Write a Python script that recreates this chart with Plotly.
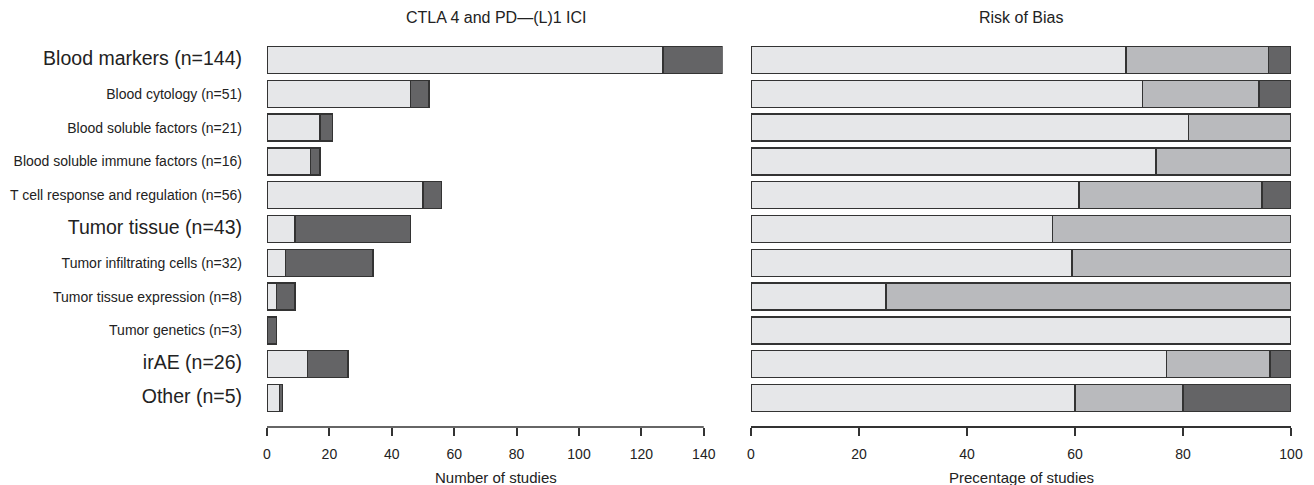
import plotly.graph_objects as go

categories = [
    "Blood markers (n=144)",
    "Blood cytology (n=51)",
    "Blood soluble factors (n=21)",
    "Blood soluble immune factors (n=16)",
    "T cell response and regulation (n=56)",
    "Tumor tissue (n=43)",
    "Tumor infiltrating cells (n=32)",
    "Tumor tissue expression (n=8)",
    "Tumor genetics (n=3)",
    "irAE (n=26)",
    "Other (n=5)",
]
is_main = [True, False, False, False, False, True, False, False, False, True, True]

ici_light = [127, 46, 17, 14, 50, 9, 6, 3, 0, 13, 4]
ici_dark = [19, 6, 4, 3, 6, 37, 28, 6, 3, 13, 1]

rob_low = [69.4, 72.5, 81.0, 75.0, 60.7, 55.8, 59.4, 25.0, 100.0, 76.9, 60.0]
rob_some = [26.4, 21.6, 19.0, 25.0, 33.9, 44.2, 40.6, 75.0, 0.0, 19.2, 20.0]
rob_high = [4.2, 5.9, 0.0, 0.0, 5.4, 0.0, 0.0, 0.0, 0.0, 3.9, 20.0]

left_ticks = [0, 20, 40, 60, 80, 100, 120, 140]
right_ticks = [0, 20, 40, 60, 80, 100]

LIGHT = "#e6e7e9"
MID = "#b9babd"
DARK = "#646466"
EDGE = "#333333"
TXT = "#222222"

W, H = 1314, 485
def px_x(p):
    return p / W
def px_y(p):
    return (H - p) / H

ypos = list(range(len(categories)))
ticktext = [
    (f'<span style="font-size:19.5px">{c}</span>' if m else c)
    for c, m in zip(categories, is_main)
]

fig = go.Figure()
line = dict(color=EDGE, width=1.5)
fig.add_trace(go.Bar(y=ypos, x=ici_light, orientation="h", marker=dict(color=LIGHT, line=line),
                     xaxis="x", yaxis="y", showlegend=False, hoverinfo="skip"))
fig.add_trace(go.Bar(y=ypos, x=ici_dark, orientation="h", marker=dict(color=DARK, line=line),
                     xaxis="x", yaxis="y", showlegend=False, hoverinfo="skip"))
fig.add_trace(go.Bar(y=ypos, x=rob_low, orientation="h", marker=dict(color=LIGHT, line=line),
                     xaxis="x2", yaxis="y2", showlegend=False, hoverinfo="skip"))
fig.add_trace(go.Bar(y=ypos, x=rob_some, orientation="h", marker=dict(color=MID, line=line),
                     xaxis="x2", yaxis="y2", showlegend=False, hoverinfo="skip"))
fig.add_trace(go.Bar(y=ypos, x=rob_high, orientation="h", marker=dict(color=DARK, line=line),
                     xaxis="x2", yaxis="y2", showlegend=False, hoverinfo="skip"))

axis_y_pos = px_y(427)
ydom = [px_y(414.9), px_y(43.1)]
font = "Liberation Sans, Arial, Helvetica, sans-serif"

fig.update_layout(
    width=W, height=H, autosize=False,
    margin=dict(l=0, r=0, t=0, b=0, pad=0),
    paper_bgcolor="white", plot_bgcolor="white",
    barmode="stack", bargap=0.2,
    font=dict(family=font, color=TXT, size=14),
    xaxis=dict(domain=[px_x(267), px_x(722.5)], range=[0, 146], anchor="free", position=axis_y_pos,
               automargin=False,
               showgrid=False, zeroline=False, showline=False,
               tickmode="array", tickvals=left_ticks, ticks="outside", ticklen=8,
               tickwidth=1.5, tickcolor=EDGE, ticklabelstandoff=6,
               tickfont=dict(size=14, color=TXT)),
    xaxis2=dict(domain=[px_x(751), px_x(1291)], range=[0, 100], anchor="free", position=axis_y_pos,
                automargin=False,
                showgrid=False, zeroline=False, showline=True, linecolor=EDGE, linewidth=1.5,
                tickmode="array", tickvals=right_ticks, ticks="outside", ticklen=8,
                tickwidth=1.5, tickcolor=EDGE, ticklabelstandoff=6,
                tickfont=dict(size=14, color=TXT)),
    yaxis=dict(domain=ydom, anchor="x", range=[len(categories) - 0.5, -0.5], automargin=False,
               tickmode="array", tickvals=ypos, ticktext=ticktext,
               showgrid=False, zeroline=False, showline=False, ticks="",
               ticklabelstandoff=24, tickfont=dict(size=14, color=TXT)),
    yaxis2=dict(domain=ydom, anchor="x2", range=[len(categories) - 0.5, -0.5], automargin=False,
                showticklabels=False, showgrid=False, zeroline=False, showline=False, ticks=""),
    shapes=[dict(type="line", xref="x", yref="paper", x0=0, x1=140, y0=axis_y_pos, y1=axis_y_pos,
                 line=dict(color=EDGE, width=1.5))],
    annotations=[
        dict(text="CTLA 4 and PD\u2014(L)1 ICI", xref="paper", yref="paper", x=px_x(496), y=px_y(18),
             xanchor="center", yanchor="middle", showarrow=False, font=dict(size=16, color=TXT)),
        dict(text="Risk of Bias", xref="paper", yref="paper", x=px_x(1021), y=px_y(18),
             xanchor="center", yanchor="middle", showarrow=False, font=dict(size=16, color=TXT)),
        dict(text="Number of studies", xref="paper", yref="paper", x=px_x(496), y=px_y(477),
             xanchor="center", yanchor="middle", showarrow=False, font=dict(size=15, color=TXT)),
        dict(text="Precentage of studies", xref="paper", yref="paper", x=px_x(1021), y=px_y(477),
             xanchor="center", yanchor="middle", showarrow=False, font=dict(size=15, color=TXT)),
    ],
)

post = (
    "document.documentElement.style.margin='0';"
    "document.body.style.margin='0';"
    "document.body.style.overflow='hidden';"
)
fig.write_html("out.html", post_script=post, config={"displayModeBar": False, "responsive": False})
